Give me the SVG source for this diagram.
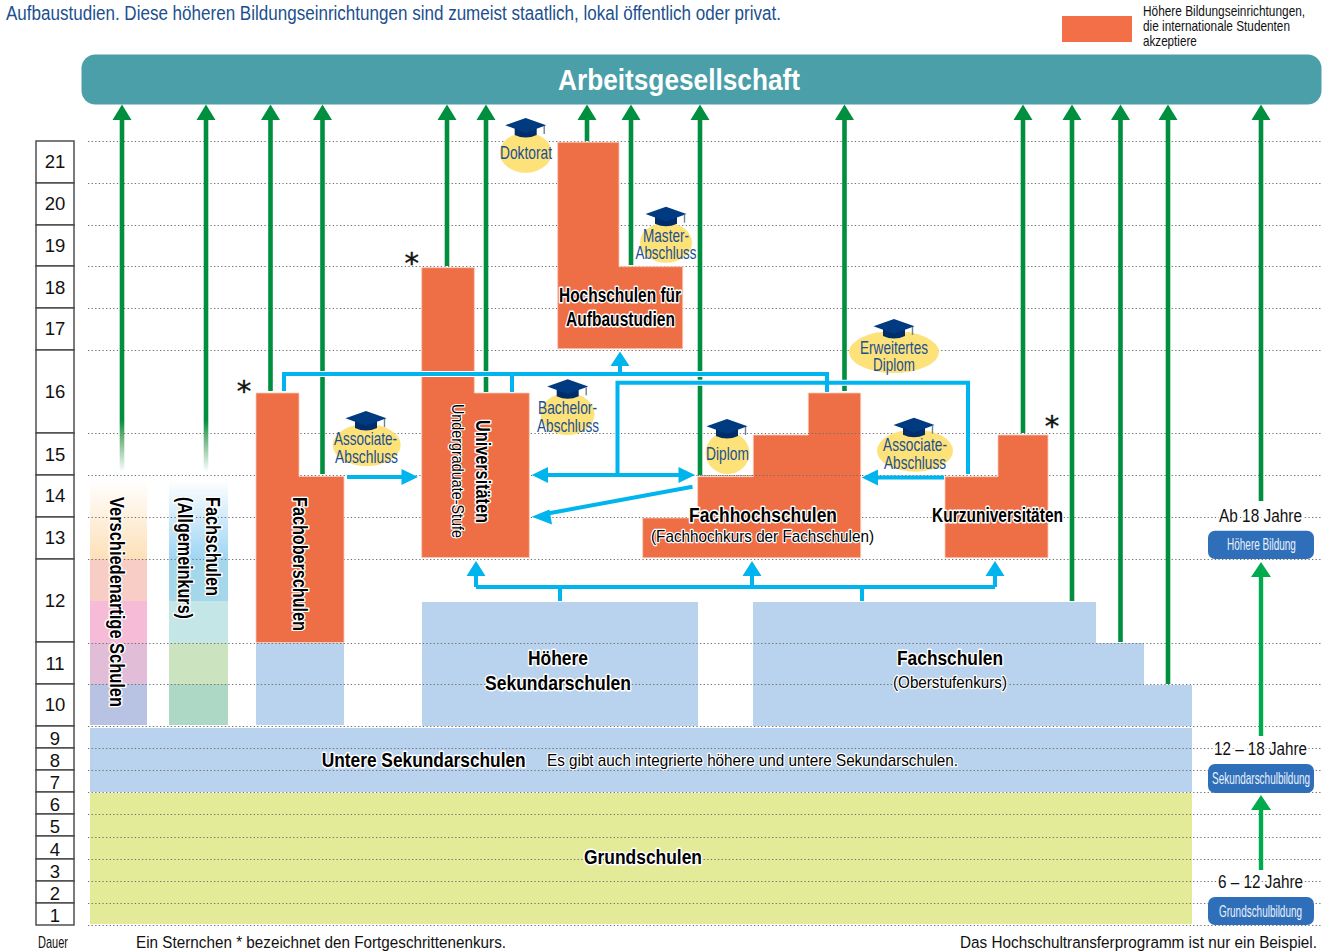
<svg xmlns="http://www.w3.org/2000/svg" xmlns:xlink="http://www.w3.org/1999/xlink" width="1328" height="952" viewBox="0 0 1328 952">
<style>
text{font-family:"Liberation Sans",Arial,sans-serif}
.grid{stroke:#707070;stroke-width:1;stroke-dasharray:1.3 2.3;fill:none}
.org{fill:#ee6e46;stroke:#fbc9b6;stroke-width:.8}
.sec{fill:#b9d3ee}
.gl{stroke:#008f3e;stroke-width:4.6;fill:none}
.gh{fill:#008f3e}
.bc{stroke:#fff;stroke-width:6;fill:none}
.bl{stroke:#00b4ee;stroke-width:4;fill:none}
.bh{fill:#00b4ee}
.lb{font-weight:bold;font-size:20px;fill:#000;stroke:#fff;stroke-width:3;paint-order:stroke;stroke-linejoin:round}
.ln{font-size:17px;fill:#000;stroke:#fff;stroke-width:2.5;paint-order:stroke;stroke-linejoin:round}
.dg{font-size:17.5px;fill:#1c4f8f}
.yr{font-size:18.5px;fill:#111;text-anchor:middle}
.age{font-size:17.5px;fill:#111;stroke:#fff;stroke-width:4;paint-order:stroke}
.btn{fill:#2f6fba}
.bt{font-size:16px;fill:#eaf2fb}
.oval{fill:#fde27a}
.cell{fill:#fff;stroke:#444;stroke-width:1.4}
.star{font-family:"DejaVu Sans",sans-serif;font-size:29px;fill:#111;stroke:#111;stroke-width:.4;text-anchor:middle}
.ft{font-size:17px;fill:#111}
.lg{font-size:14px;fill:#111}
</style>
<defs>
<g id="hat">
<path d="M-11 9V17Q0 22 11 17V9Z" fill="#002d6a"/>
<path d="M0 0L20.5 7.3L0 14.7L-20.5 7.3Z" fill="#003a80"/>
<path d="M18.5 8V16" stroke="#6f8196" stroke-width="1.4"/>
</g>
<linearGradient id="gVar" x1="0" y1="0" x2="0" y2="1"><stop offset="0" stop-color="#fff"/><stop offset="1" stop-color="#fde0b8"/></linearGradient>
<linearGradient id="gFach" x1="0" y1="0" x2="0" y2="1"><stop offset="0" stop-color="#fff"/><stop offset="1" stop-color="#9ed5f4"/></linearGradient>
<linearGradient id="gFade" x1="0" y1="0" x2="0" y2="1"><stop offset="0" stop-color="#008f3e"/><stop offset=".3" stop-color="#5fae74"/><stop offset="1" stop-color="#fff"/></linearGradient>
</defs>

<g id="intro">
<text x="6" y="20" font-size="20" fill="#1c4f8f" textLength="775" lengthAdjust="spacingAndGlyphs">Aufbaustudien. Diese höheren Bildungseinrichtungen sind zumeist staatlich, lokal öffentlich oder privat.</text>
</g>
<g id="legend">
<rect x="1062" y="16" width="70" height="26" fill="#f26f48"/>
<text class="lg" transform="translate(1143 16) scale(.84 1)" textLength="193" lengthAdjust="spacingAndGlyphs">Höhere Bildungseinrichtungen,</text>
<text class="lg" transform="translate(1143 31) scale(.84 1)" textLength="175" lengthAdjust="spacingAndGlyphs">die internationale Studenten</text>
<text class="lg" transform="translate(1143 46) scale(.84 1)" textLength="64" lengthAdjust="spacingAndGlyphs">akzeptiere</text>
</g>

<g id="society">
<rect x="81.500" y="54.500" width="1240" height="50" rx="14" fill="#4a9fa8"/>
<text x="558" y="90" font-size="30" font-weight="bold" fill="#fff" textLength="242" lengthAdjust="spacingAndGlyphs">Arbeitsgesellschaft</text>
</g>

<g id="years">
<rect class="cell" x="36" y="141" width="38" height="42"/><text class="yr" x="55" y="168">21</text>
<rect class="cell" x="36" y="183" width="38" height="42"/><text class="yr" x="55" y="210">20</text>
<rect class="cell" x="36" y="225" width="38" height="41"/><text class="yr" x="55" y="252">19</text>
<rect class="cell" x="36" y="266" width="38" height="42"/><text class="yr" x="55" y="294">18</text>
<rect class="cell" x="36" y="308" width="38" height="42"/><text class="yr" x="55" y="335">17</text>
<rect class="cell" x="36" y="350" width="38" height="83"/><text class="yr" x="55" y="398">16</text>
<rect class="cell" x="36" y="433" width="38" height="42"/><text class="yr" x="55" y="461">15</text>
<rect class="cell" x="36" y="475" width="38" height="42"/><text class="yr" x="55" y="502">14</text>
<rect class="cell" x="36" y="517" width="38" height="42"/><text class="yr" x="55" y="544">13</text>
<rect class="cell" x="36" y="559" width="38" height="83"/><text class="yr" x="55" y="607">12</text>
<rect class="cell" x="36" y="642" width="38" height="42"/><text class="yr" x="55" y="670">11</text>
<rect class="cell" x="36" y="684" width="38" height="42"/><text class="yr" x="55" y="711">10</text>
<rect class="cell" x="36" y="726" width="38" height="22"/><text class="yr" x="55" y="745">9</text>
<rect class="cell" x="36" y="748" width="38" height="22"/><text class="yr" x="55" y="767">8</text>
<rect class="cell" x="36" y="770" width="38" height="22"/><text class="yr" x="55" y="789">7</text>
<rect class="cell" x="36" y="792" width="38" height="22"/><text class="yr" x="55" y="811">6</text>
<rect class="cell" x="36" y="814" width="38" height="22"/><text class="yr" x="55" y="833">5</text>
<rect class="cell" x="36" y="836" width="38" height="23"/><text class="yr" x="55" y="856">4</text>
<rect class="cell" x="36" y="859" width="38" height="22"/><text class="yr" x="55" y="878">3</text>
<rect class="cell" x="36" y="881" width="38" height="22"/><text class="yr" x="55" y="900">2</text>
<rect class="cell" x="36" y="903" width="38" height="22"/><text class="yr" x="55" y="922">1</text>
<text x="38" y="948" font-size="17" fill="#111" textLength="30" lengthAdjust="spacingAndGlyphs">Dauer</text>
</g>

<g id="school-fills">
<rect x="90" y="480" width="57" height="79" fill="url(#gVar)"/>
<rect x="90" y="559" width="57" height="42" fill="#f7cdc5"/>
<rect x="90" y="601" width="57" height="42" fill="#f6bbd7"/>
<rect x="90" y="643" width="57" height="41" fill="#e2bdd8"/>
<rect x="90" y="684" width="57" height="41" fill="#b8c3e3"/>
<rect x="169" y="480" width="59" height="79" fill="url(#gFach)"/>
<rect x="169" y="559" width="59" height="42" fill="#a5d7ea"/>
<rect x="169" y="601" width="59" height="42" fill="#c5e6e6"/>
<rect x="169" y="643" width="59" height="41" fill="#cce3c0"/>
<rect x="169" y="684" width="59" height="41" fill="#aed8c6"/>
<rect class="sec" x="256" y="643" width="88" height="82"/>
<rect class="sec" x="422" y="602" width="276" height="124"/>
<path class="sec" d="M753 602H1096V643H1144V685H1192V726H753Z"/>
<rect class="sec" x="90" y="728" width="1102" height="64"/>
<rect x="90" y="793" width="1102" height="131" fill="#e3ea98"/>
</g>

<g id="gridlines">
<path class="grid" d="M88 141.500H1322M88 183.500H1322M88 225.500H1322M88 266.500H1322M88 308.500H1322M88 350.500H1322M88 433.500H1322M88 475.500H1322M88 517.500H1322M88 559.500H1322M88 643.500H1322M88 684.500H1322M88 726.500H1322M88 748.500H1322M88 770.500H1322M88 792.500H1322M88 814.500H1322M88 837.500H1322M88 859.500H1322M88 881.500H1322M88 903.500H1322M88 925.500H1322"/>
</g>

<g id="orange-schools">
<path id="fachober" class="org" d="M256 393H299V476.500H344V642.500H256Z"/>
<path id="uni" class="org" d="M421.700 267.700H474.300V393H529.300V557.500H421.700Z"/>
<path id="hochschulen" class="org" d="M557.700 142.300H619V266.700H682.700V348.700H557.700Z"/>
<path id="fachhoch" class="org" d="M642.700 518H697.700V476.700H753.300V435H808.300V393H860.700V557.700H642.700Z"/>
<path id="kurzuni" class="org" d="M945 476.700H998V435H1048V557.700H945Z"/>
<path class="grid" d="M698 475.500H861M808 433.500H861"/>
</g>

<g id="connectors">
<rect x="119.700" y="120" width="4.600" height="300" fill="#008f3e"/><rect x="119.700" y="420" width="4.600" height="52" fill="url(#gFade)"/>
<rect x="203.700" y="120" width="4.600" height="300" fill="#008f3e"/><rect x="203.700" y="420" width="4.600" height="52" fill="url(#gFade)"/>
<path class="gl" d="M270.500 118V391M322.500 118V474M447 118V266M486 118V392M587 118V141M631 118V265M700 118V475M844.500 118V391M1023 118V433M1072 118V601M1120.500 118V642M1168 118V684M1261 118V501"/>
<path class="gh" d="M122 104.500L131.500 120H112.500ZM206 104.500L215.500 120H196.500ZM270.500 104.500L280 120H261ZM322.500 104.500L332 120H313ZM447 104.500L456.500 120H437.500ZM486 104.500L495.500 120H476.500ZM587 104.500L596.500 120H577.500ZM631 104.500L640.500 120H621.500ZM700 104.500L709.500 120H690.500ZM844.500 104.500L854 120H835ZM1023 104.500L1032.500 120H1013.500ZM1072 104.500L1081.500 120H1062.500ZM1120.500 104.500L1130 120H1111ZM1168 104.500L1177.500 120H1158.500ZM1261 104.500L1270.500 120H1251.500Z"/>
<path d="M1261 736V575M1261 870V808" stroke="#00ab4e" stroke-width="4.400" fill="none"/>
<path d="M1261 562L1271 577H1251ZM1261 795L1271 810H1251Z" fill="#00ab4e"/>

<path class="bc" d="M284 391V374H827V392M617.500 475V382.700H968V474"/>
<path class="bl" d="M284 391V374H827V392M512 374V392M620 374V364M617.500 475V382.700H968V474"/>
<path class="bl" d="M544 475H683M347 477H406M944 477.500H874M692.500 486.700L545 514M476 587V574M752 587V574M995 587V574M476 587H995M560 587V601M862 587V601"/>
<path class="bh" d="M620 351.500L629.500 366H610.500ZM531.700 475L548 467V483ZM695 475L678.500 467V483ZM418 477L401.500 469V485ZM861.700 477.500L878 469.500V485.500ZM531.700 516.700L549.500 509.500L552 524.500ZM476 561L485.500 576H466.500ZM752 561L761.500 576H742.500ZM995 561L1004.500 576H985.500Z"/>
</g>

<g id="stars">
<text class="star" x="244" y="401">*</text>
<text class="star" x="411.700" y="273">*</text>
<text class="star" x="1052" y="436">*</text>
</g>

<g id="labels">
<text class="lb" x="559" y="301.500" textLength="122" lengthAdjust="spacingAndGlyphs">Hochschulen für</text>
<text class="lb" x="566" y="326" textLength="109" lengthAdjust="spacingAndGlyphs">Aufbaustudien</text>
<text class="lb" x="689" y="521.700" textLength="148" lengthAdjust="spacingAndGlyphs">Fachhochschulen</text>
<text class="ln" x="651" y="542" textLength="223" lengthAdjust="spacingAndGlyphs">(Fachhochkurs der Fachschulen)</text>
<text class="lb" x="932" y="521.700" textLength="131" lengthAdjust="spacingAndGlyphs">Kurzuniversitäten</text>
<text class="lb" transform="translate(476 420) rotate(90)" textLength="103" lengthAdjust="spacingAndGlyphs">Universitäten</text>
<text class="ln" transform="translate(452 404) rotate(90)" textLength="134" lengthAdjust="spacingAndGlyphs">Undergraduate-Stufe</text>
<text class="lb" transform="translate(293 497) rotate(90)" textLength="134" lengthAdjust="spacingAndGlyphs">Fachoberschulen</text>
<text class="lb" transform="translate(110 497) rotate(90)" textLength="210" lengthAdjust="spacingAndGlyphs">Verschiedenartige Schulen</text>
<text class="lb" transform="translate(206 497) rotate(90)" textLength="99" lengthAdjust="spacingAndGlyphs">Fachschulen</text>
<text class="lb" transform="translate(178 497) rotate(90)" textLength="122" lengthAdjust="spacingAndGlyphs">(Allgemeinkurs)</text>
<text class="lb" x="528" y="665" textLength="60" lengthAdjust="spacingAndGlyphs">Höhere</text>
<text class="lb" x="485" y="690" textLength="146" lengthAdjust="spacingAndGlyphs">Sekundarschulen</text>
<text class="lb" x="897" y="665" textLength="106" lengthAdjust="spacingAndGlyphs">Fachschulen</text>
<text class="ln" x="893" y="688" font-size="16" textLength="114" lengthAdjust="spacingAndGlyphs">(Oberstufenkurs)</text>
<text class="lb" x="321.700" y="767" textLength="204" lengthAdjust="spacingAndGlyphs">Untere Sekundarschulen</text>
<text class="ln" x="547" y="766" textLength="411" lengthAdjust="spacingAndGlyphs">Es gibt auch integrierte höhere und untere Sekundarschulen.</text>
<text class="lb" x="584" y="864" textLength="118" lengthAdjust="spacingAndGlyphs">Grundschulen</text>
</g>

<g id="degree-doktorat">
<ellipse class="oval" cx="525.700" cy="152.700" rx="26" ry="20"/><use xlink:href="#hat" href="#hat" x="525.700" y="118"/>
<text class="dg" transform="translate(500 159) scale(.78 1)" textLength="66.700" lengthAdjust="spacingAndGlyphs">Doktorat</text>
</g>
<g id="degree-master">
<ellipse class="oval" cx="666" cy="242.700" rx="26" ry="20"/><use xlink:href="#hat" href="#hat" x="666" y="206.700"/>
<text class="dg" transform="translate(643 242) scale(.78 1)" textLength="59" lengthAdjust="spacingAndGlyphs">Master-</text>
<text class="dg" transform="translate(635.500 259) scale(.78 1)" textLength="78.200" lengthAdjust="spacingAndGlyphs">Abschluss</text>
</g>
<g id="degree-bachelor">
<ellipse class="oval" cx="567.500" cy="414" rx="27" ry="21"/><use xlink:href="#hat" href="#hat" x="567.700" y="379.300"/>
<text class="dg" transform="translate(538 414) scale(.78 1)" textLength="75.600" lengthAdjust="spacingAndGlyphs">Bachelor-</text>
<text class="dg" transform="translate(537 432) scale(.78 1)" textLength="79.500" lengthAdjust="spacingAndGlyphs">Abschluss</text>
</g>
<g id="degree-associate-left">
<ellipse class="oval" cx="366.700" cy="445" rx="34" ry="21"/><use xlink:href="#hat" href="#hat" x="366" y="411"/>
<text class="dg" transform="translate(334 445) scale(.78 1)" textLength="80.800" lengthAdjust="spacingAndGlyphs">Associate-</text>
<text class="dg" transform="translate(335 462.700) scale(.78 1)" textLength="80.800" lengthAdjust="spacingAndGlyphs">Abschluss</text>
</g>
<g id="degree-erweitert">
<ellipse class="oval" cx="894" cy="352" rx="45" ry="21"/><use xlink:href="#hat" href="#hat" x="894" y="319"/>
<text class="dg" transform="translate(860 354) scale(.78 1)" textLength="87.200" lengthAdjust="spacingAndGlyphs">Erweitertes</text>
<text class="dg" transform="translate(873 371) scale(.78 1)" textLength="53.800" lengthAdjust="spacingAndGlyphs">Diplom</text>
</g>
<g id="degree-diplom">
<ellipse class="oval" cx="727.500" cy="453" rx="22" ry="21"/><use xlink:href="#hat" href="#hat" x="727" y="419"/>
<text class="dg" transform="translate(706 460) scale(.78 1)" textLength="55.100" lengthAdjust="spacingAndGlyphs">Diplom</text>
</g>
<g id="degree-associate-right">
<ellipse class="oval" cx="915" cy="450.700" rx="38" ry="21"/><use xlink:href="#hat" href="#hat" x="914" y="417.700"/>
<text class="dg" transform="translate(883 451) scale(.78 1)" textLength="82" lengthAdjust="spacingAndGlyphs">Associate-</text>
<text class="dg" transform="translate(884 469) scale(.78 1)" textLength="79.500" lengthAdjust="spacingAndGlyphs">Abschluss</text>
</g>

<g id="stage-higher">
<text class="age" x="1219" y="522" textLength="83" lengthAdjust="spacingAndGlyphs">Ab 18 Jahre</text>
<rect class="btn" x="1208" y="530.700" width="106" height="28.300" rx="7"/>
<text class="bt" transform="translate(1227 550) scale(.65 1)" textLength="106" lengthAdjust="spacingAndGlyphs">Höhere Bildung</text>
</g>
<g id="stage-secondary">
<text class="age" x="1214" y="755" textLength="93" lengthAdjust="spacingAndGlyphs">12 – 18 Jahre</text>
<rect class="btn" x="1208" y="764" width="106" height="29" rx="7"/>
<text class="bt" transform="translate(1212 784) scale(.65 1)" textLength="150.800" lengthAdjust="spacingAndGlyphs">Sekundarschulbildung</text>
</g>
<g id="stage-primary">
<text class="age" x="1218" y="888" textLength="85" lengthAdjust="spacingAndGlyphs">6 – 12 Jahre</text>
<rect class="btn" x="1208" y="897" width="106" height="28" rx="7"/>
<text class="bt" transform="translate(1219 917) scale(.65 1)" textLength="127.700" lengthAdjust="spacingAndGlyphs">Grundschulbildung</text>
</g>

<g id="footnotes">
<text class="ft" transform="translate(136 948) scale(.92 1)" textLength="402.200" lengthAdjust="spacingAndGlyphs">Ein Sternchen * bezeichnet den Fortgeschrittenenkurs.</text>
<text class="ft" transform="translate(960 948) scale(.92 1)" textLength="388" lengthAdjust="spacingAndGlyphs">Das Hochschultransferprogramm ist nur ein Beispiel.</text>
</g>
</svg>
